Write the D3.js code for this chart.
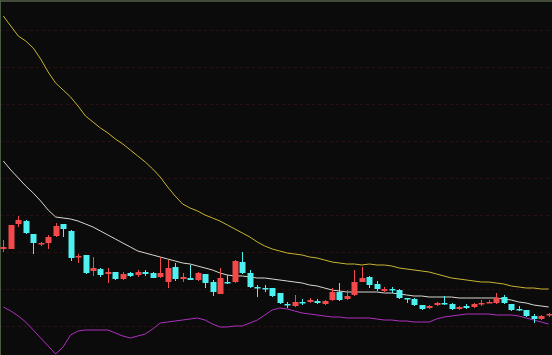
<!DOCTYPE html>
<html><head><meta charset="utf-8">
<script src="https://cdn.jsdelivr.net/npm/d3@7"></script>
<style>html,body{margin:0;padding:0;background:#0b0b0b;overflow:hidden}svg{display:block}</style>
</head><body>
<script>
const openV  = [7.55,7.55,8.8,8.95,8.3,7.8,7.85,8.2,8.8,8.45,7.15,7.25,6.45,6.55,6.3,6.4,6.05,6.35,6.25,6.4,6.35,6.15,5.9,6.65,6.05,6.1,6.0,6.3,5.9,5.3,5.9,5.9,6.9,6.35,5.65,5.6,5.6,5.35,4.8,4.7,4.9,4.9,4.95,4.8,5.0,5.4,5.05,5.25,5.9,6.15,5.8,5.45,5.55,5.5,5.1,5.05,4.75,4.6,4.75,4.85,4.8,4.55,4.7,4.65,4.8,4.85,4.85,5.15,4.8,4.55,4.5,4.2,4.05,4.25];
const highV  = [8.0,8.75,9.2,9.0,8.3,7.9,8.25,8.85,8.8,8.5,7.3,7.25,7.15,6.6,6.6,6.4,6.4,6.4,6.5,6.5,6.4,7.15,7.0,6.85,6.35,6.75,6.4,6.3,6.0,6.6,6.25,7.0,7.4,6.5,5.75,5.75,5.6,5.35,4.9,5.25,5.05,5.1,5.05,5.0,5.6,5.85,5.5,6.5,6.65,6.2,5.95,5.65,5.65,5.55,5.1,5.1,4.75,4.75,4.9,5.2,4.85,4.7,4.8,4.85,5.0,5.0,5.35,5.25,4.8,4.7,4.5,4.3,4.25,4.35];
const lowV   = [7.4,7.55,8.65,8.3,7.3,7.7,7.55,8.15,8.15,6.95,6.85,6.3,6.2,6.15,5.85,6.0,6.0,6.15,6.15,6.2,6.1,6.1,5.6,5.95,5.9,6.0,5.95,5.6,5.2,5.3,5.8,5.85,6.3,5.6,5.15,5.4,5.15,4.8,4.6,4.65,4.75,4.85,4.8,4.75,4.95,4.95,5.0,5.2,5.9,5.6,5.45,5.4,5.35,5.05,4.85,4.7,4.5,4.55,4.7,4.75,4.5,4.5,4.55,4.6,4.7,4.85,4.8,4.8,4.45,4.45,4.15,3.85,4.0,4.15];
const closeV = [7.65,8.75,9.0,8.35,7.85,7.85,8.15,8.7,8.55,7.1,7.2,6.35,6.6,6.25,6.4,6.05,6.3,6.2,6.4,6.3,6.1,6.35,6.6,6.05,6.15,6.0,6.35,5.85,5.4,6.1,5.85,6.95,6.35,5.65,5.6,5.55,5.2,4.85,4.75,4.9,4.85,5.0,4.85,4.95,5.4,5.0,5.2,5.9,6.1,5.75,5.55,5.55,5.5,5.1,5.05,4.75,4.55,4.7,4.85,4.8,4.55,4.65,4.6,4.8,4.85,4.9,5.1,4.85,4.5,4.5,4.2,4.05,4.2,4.3];
const bollUpper = [19.2,18.7,18.2,17.95,17.6,17.05,16.4,15.85,15.5,15.15,14.7,14.2,13.9,13.6,13.35,13.05,12.8,12.5,12.2,11.9,11.55,11.15,10.65,10.2,9.8,9.6,9.45,9.25,9.1,8.95,8.75,8.55,8.35,8.15,7.9,7.7,7.55,7.45,7.35,7.3,7.25,7.15,7.1,7.0,6.9,6.85,6.8,6.8,6.75,6.8,6.75,6.75,6.7,6.6,6.55,6.5,6.45,6.4,6.3,6.2,6.1,6.05,6.0,5.95,5.9,5.9,5.85,5.8,5.7,5.65,5.6,5.6,5.55,5.55];
const bollMid = [11.95,11.5,11.1,10.7,10.35,9.95,9.5,9.15,9.1,9.05,8.95,8.8,8.65,8.45,8.25,8.05,7.85,7.65,7.45,7.35,7.25,7.15,7.05,6.95,6.85,6.8,6.7,6.6,6.5,6.35,6.25,6.2,6.2,6.15,6.1,6.1,6.05,6.0,5.95,5.9,5.85,5.75,5.7,5.6,5.5,5.45,5.4,5.4,5.4,5.4,5.4,5.35,5.35,5.3,5.25,5.2,5.2,5.15,5.15,5.15,5.15,5.1,5.1,5.1,5.1,5.1,5.1,5.05,5.0,4.9,4.85,4.75,4.7,4.65];
const bollLower = [4.65,4.45,4.2,3.9,3.5,3.1,2.7,2.3,2.65,3.25,3.45,3.5,3.5,3.5,3.5,3.35,3.2,3.1,3.2,3.3,3.55,3.85,3.9,3.95,4.0,4.05,4.1,4.0,3.8,3.65,3.65,3.7,3.7,3.85,4.0,4.25,4.5,4.6,4.55,4.45,4.35,4.3,4.25,4.2,4.15,4.15,4.1,4.1,4.1,4.1,4.05,4.0,4.0,3.95,3.95,3.9,3.9,3.9,4.05,4.15,4.2,4.25,4.3,4.3,4.3,4.3,4.25,4.25,4.25,4.2,4.1,4.0,3.9,3.8];
const gridValues = [3.7,5.55,7.4,9.25,11.1,12.95,14.8,16.65,18.5];

const W = 552, H = 355;
const svg = d3.select("body").append("svg").attr("width", W).attr("height", H);
svg.append("rect").attr("width", W).attr("height", H).attr("fill", "#0b0b0b");

const idx = d3.range(openV.length);
const x = d3.scaleBand().domain(idx).range([-0.4, 552.4]).paddingInner(0.2).paddingOuter(0.1);
const cx = i => x(i) + x.bandwidth() / 2;
const y = d3.scaleLinear().domain([2.25, 20]).range([H, 0]);

// grid
svg.append("g").selectAll("line").data(gridValues).join("line")
  .attr("x1", 0).attr("x2", W)
  .attr("y1", d => Math.round(y(d)) + 0.5).attr("y2", d => Math.round(y(d)) + 0.5)
  .attr("stroke", "#2a1010").attr("stroke-width", 1).attr("stroke-dasharray", "3,3");

// frame
svg.append("line").attr("x1", 0).attr("x2", W).attr("y1", 1).attr("y2", 1).attr("stroke", "#7a8a68").attr("stroke-width", 1);
svg.append("line").attr("x1", 0.5).attr("x2", 0.5).attr("y1", 0).attr("y2", H).attr("stroke", "#4a5a40").attr("stroke-width", 1);

// bands
const line = arr => d3.line().x((d, i) => cx(i)).y(d => y(d))(arr);
svg.append("path").attr("d", line(bollUpper)).attr("fill", "none").attr("stroke", "#c8b432").attr("stroke-width", 1);
svg.append("path").attr("d", line(bollMid)).attr("fill", "none").attr("stroke", "#d8d8d0").attr("stroke-width", 1);
svg.append("path").attr("d", line(bollLower)).attr("fill", "none").attr("stroke", "#b030c0").attr("stroke-width", 1);

// candles
const up = i => closeV[i] >= openV[i];
const col = i => up(i) ? "#f24a4a" : "#4ef0f0";
const g = svg.append("g");
g.selectAll("line.wick").data(idx).join("line").attr("class", "wick")
  .attr("x1", i => Math.round(cx(i)) + 0.5).attr("x2", i => Math.round(cx(i)) + 0.5)
  .attr("y1", i => y(highV[i])).attr("y2", i => y(lowV[i]))
  .attr("stroke", col).attr("stroke-width", 1);
g.selectAll("rect.body").data(idx).join("rect").attr("class", "body")
  .attr("x", i => Math.round(cx(i)) + 0.5 - 3)
  .attr("width", 6)
  .attr("y", i => y(Math.max(openV[i], closeV[i])))
  .attr("height", i => Math.max(1.5, Math.abs(y(openV[i]) - y(closeV[i]))))
  .attr("fill", col);
</script>
</body></html>
